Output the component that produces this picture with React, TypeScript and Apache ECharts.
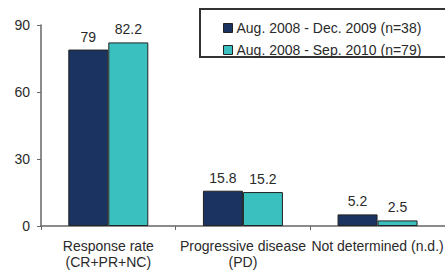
import React, { useEffect, useRef } from "react";
import * as echarts from "echarts";

const categories = ["Response rate\n(CR+PR+NC)", "Progressive disease\n(PD)", "Not determined (n.d.)"];
const seriesNames = ["Aug. 2008 - Dec. 2009 (n=38)", "Aug. 2008 - Sep. 2010 (n=79)"];
const series1 = [79, 15.8, 5.2];
const series2 = [82.2, 15.2, 2.5];
const yTicks = [0, 30, 60, 90];

export default function App() {
  const ref = useRef<HTMLDivElement>(null);
  useEffect(() => {
    if (!ref.current) return;
    const chart = echarts.init(ref.current, undefined, { renderer: "svg" });
    const font = "Liberation Sans, Arial, sans-serif";
    const textColor = "#2a2a2a";
    const labelStyle = {
      show: true,
      position: "top" as const,
      distance: 6,
      fontFamily: font,
      fontSize: 14,
      color: textColor,
    };
    chart.setOption({
      animation: false,
      textStyle: { fontFamily: font },
      grid: { left: 41, right: -10, top: 25, bottom: 43 },
      legend: {
        orient: "vertical",
        left: 218,
        top: 16,
        itemWidth: 9,
        itemHeight: 9,
        itemGap: 8,
        icon: "rect",
        itemStyle: { borderColor: "#222", borderWidth: 1 },
        textStyle: { fontFamily: font, fontSize: 14, lineHeight: 14, color: textColor, padding: [0, 0, 0, -1] },
        data: seriesNames,
      },
      graphic: [
        {
          type: "rect",
          shape: { x: 200, y: 9, width: 260, height: 48 },
          style: { fill: "none", stroke: "#333", lineWidth: 2 },
          z: 0,
        },
      ],
      xAxis: {
        type: "category",
        data: categories,
        axisLine: { lineStyle: { color: "#666", width: 1.5 } },
        axisTick: { show: true, length: 4, lineStyle: { color: "#666" } },
        axisLabel: {
          fontFamily: font,
          fontSize: 14,
          color: textColor,
          margin: 12,
          lineHeight: 16,
          interval: 0,
        },
      },
      yAxis: {
        type: "value",
        min: 0,
        max: 90,
        interval: 30,
        splitLine: { show: false },
        axisLine: { show: true, lineStyle: { color: "#666", width: 1.5 } },
        axisTick: { show: true, length: 4, lineStyle: { color: "#666" } },
        axisLabel: {
          fontFamily: font,
          fontSize: 14,
          color: textColor,
          margin: 11,
          customValues: yTicks,
        },
      },
      series: [
        {
          name: seriesNames[0],
          type: "bar",
          data: series1,
          barWidth: 40,
          barGap: "0%",
          itemStyle: { color: "#1b3360", borderColor: "#222", borderWidth: 1 },
          label: labelStyle,
        },
        {
          name: seriesNames[1],
          type: "bar",
          data: series2,
          barWidth: 40,
          barGap: "0%",
          itemStyle: { color: "#3bc0c0", borderColor: "#222", borderWidth: 1 },
          label: labelStyle,
        },
      ],
    });
    return () => chart.dispose();
  }, []);
  return <div ref={ref} style={{ width: 445, height: 270, position: "absolute", left: 0, top: 0 }} />;
}
